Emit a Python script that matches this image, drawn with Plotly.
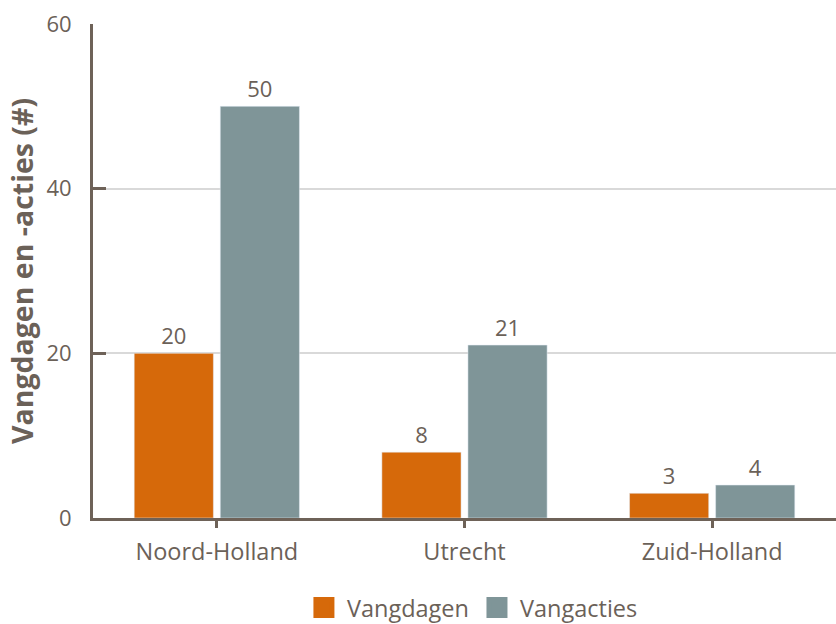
import plotly.graph_objects as go

categories = ["Noord-Holland", "Utrecht", "Zuid-Holland"]
vangdagen = [20, 8, 3]
vangacties = [50, 21, 4]
y_ticks = [0, 20, 40, 60]
series_names = ["Vangdagen", "Vangacties"]
series_colors = ["#d6690a", "#7f9598"]

font_color = "#6b6158"
axis_color = "#6e6258"
FONT = "Open Sans"

fig = go.Figure()
for name, vals, col in zip(series_names, [vangdagen, vangacties], series_colors):
    fig.add_trace(go.Bar(name=name, x=categories, y=vals, marker_color=col,
                         text=vals, textposition="outside", cliponaxis=False,
                         textfont=dict(size=22, color=font_color), showlegend=False))
# legend entries with larger swatches
for name, col in zip(series_names, series_colors):
    fig.add_trace(go.Scatter(name=name, x=[None], y=[None], mode="markers",
                             marker=dict(symbol="square", size=16, color=col,
                                         line=dict(color=col, width=5)),
                             showlegend=True))

fig.update_layout(
    width=836, height=624,
    margin=dict(l=93, r=0, t=24, b=106, autoexpand=False),
    plot_bgcolor="white", paper_bgcolor="white",
    font=dict(family=FONT, color=font_color, size=22),
    barmode="group", bargap=0.305, bargroupgap=0.08,
    showlegend=True,
    legend=dict(orientation="h", x=0.51, xanchor="center", yref="container", y=0.026, yanchor="middle",
                font=dict(size=23.5, color=font_color), itemsizing="trace", itemwidth=36),
    xaxis=dict(range=[-0.5, 2.5], showline=True, linecolor=axis_color, linewidth=3,
               ticks="outside", ticklen=7, tickwidth=3, tickcolor=axis_color,
               ticklabelstandoff=4,
               tickfont=dict(size=23.5, color=font_color)),
    yaxis=dict(range=[0, 60], tickvals=y_ticks, showline=True, linecolor=axis_color, linewidth=3,
               ticks="inside", ticklen=13, tickwidth=3, tickcolor=axis_color,
               gridcolor="#d9d9d9", gridwidth=2, zeroline=False,
               ticklabelstandoff=14,
               tickfont=dict(size=22, color=font_color),
               title=dict(text="<b>Vangdagen en -acties (#)</b>", font=dict(size=28.5, color=font_color), standoff=5)),
)

fig.write_html("out.html", config={"displayModeBar": False},
               post_script="document.body.style.margin='0';document.body.style.overflow='hidden';")
